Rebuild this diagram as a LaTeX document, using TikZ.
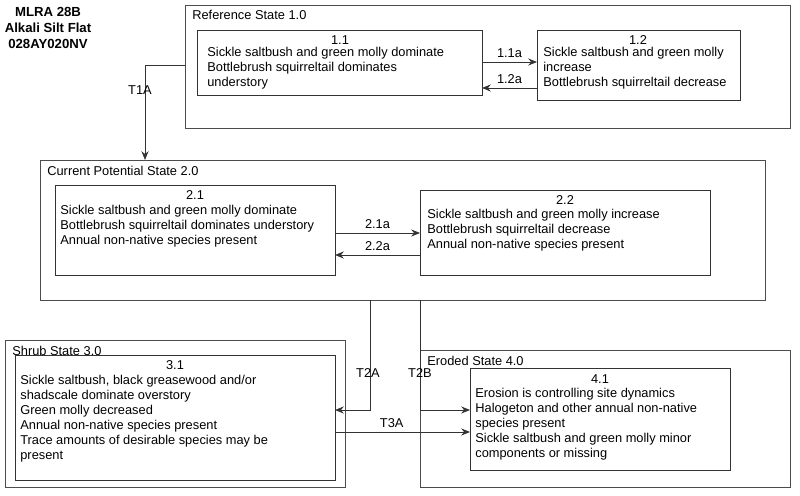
\documentclass[tikz,border=0pt]{standalone}
\usepackage{fontspec}
\setmainfont{Liberation Sans}
\usetikzlibrary{arrows.meta}
\tikzset{
  statebox/.style={draw=black!70, line width=0.5pt},
  phase/.style={draw=black!80, line width=0.5pt},
  txt/.style={font=\fontsize{7.3}{8.5}\selectfont, inner sep=0pt},
  trans/.style={draw=black!80, line width=0.5pt, -{Stealth[length=5pt,width=4pt]}}
}
\begin{document}
\begin{tikzpicture}[x=0.02cm, y=-0.02cm]
  \useasboundingbox (0,0) rectangle (800,496);
  % title
  \node[txt, font=\fontsize{7.5}{9.3}\selectfont\bfseries, align=center] (title) at (48,28)
    {MLRA 28B\\Alkali Silt Flat\\028AY020NV};

  % states
  \draw[statebox] (185,5) rectangle (790,128);
  \node[txt, anchor=north west] (s1) at (192,10) {Reference State 1.0};
  \draw[statebox] (40,160) rectangle (765,300);
  \node[txt, anchor=north west] (s2) at (47,166) {Current Potential State 2.0};
  \draw[statebox] (5,340) rectangle (345,487);
  \node[txt, anchor=north west] (s3) at (12,346) {Shrub State 3.0};
  \draw[statebox] (420,350) rectangle (790,487);
  \node[txt, anchor=north west] (s4) at (427,356) {Eroded State 4.0};

  % phases
  \draw[phase] (197,30) rectangle (482,95);
  \node[txt, anchor=north] (p11n) at (340,35) {1.1};
  \node[txt, anchor=north west, align=left] (p11) at (207,47)
    {Sickle saltbush and green molly dominate\\Bottlebrush squirreltail dominates\\understory};
  \draw[phase] (537,30) rectangle (740,100);
  \node[txt, anchor=north] (p12n) at (638,35) {1.2};
  \node[txt, anchor=north west, align=left] (p12) at (543,47)
    {Sickle saltbush and green molly\\increase\\Bottlebrush squirreltail decrease};

  \draw[phase] (55,185) rectangle (335,275);
  \node[txt, anchor=north] (p21n) at (195,190) {2.1};
  \node[txt, anchor=north west, align=left] (p21) at (60,205)
    {Sickle saltbush and green molly dominate\\Bottlebrush squirreltail dominates understory\\Annual non-native species present};
  \draw[phase] (420,190) rectangle (710,275);
  \node[txt, anchor=north] (p22n) at (565,195) {2.2};
  \node[txt, anchor=north west, align=left] (p22) at (427,209)
    {Sickle saltbush and green molly increase\\Bottlebrush squirreltail decrease\\Annual non-native species present};

  \draw[phase] (15,355) rectangle (335,480);
  \node[txt, anchor=north] (p31n) at (175,360) {3.1};
  \node[txt, anchor=north west, align=left] (p31) at (20,375)
    {Sickle saltbush, black greasewood and/or\\shadscale dominate overstory\\Green molly decreased\\Annual non-native species present\\Trace amounts of desirable species may be\\present};
  \draw[phase] (470,368) rectangle (730,470);
  \node[txt, anchor=north] (p41n) at (600,374) {4.1};
  \node[txt, anchor=north west, align=left] (p41) at (475,388)
    {Erosion is controlling site dynamics\\Halogeton and other annual non-native\\species present\\Sickle saltbush and green molly minor\\components or missing};

  % transitions
  \draw[trans] (482,62) -- (537,62) node[txt, pos=0.5, above=2pt] {1.1a};
  \draw[trans] (537,88) -- (482,88) node[txt, pos=0.5, above=2pt] {1.2a};
  \draw[trans] (335,233) -- (420,233) node[txt, pos=0.5, above=2pt] {2.1a};
  \draw[trans] (420,255) -- (335,255) node[txt, pos=0.5, above=2pt] {2.2a};
  \draw[trans] (185,65) -- (145,65) -- (145,160);
  \node[txt] (t1a) at (140,90) {T1A};
  \draw[trans] (370,300) -- (370,410) -- (335,410);
  \node[txt] (t2a) at (368,373) {T2A};
  \draw[trans] (420,300) -- (420,410) -- (470,410);
  \node[txt] (t2b) at (420,373) {T2B};
  \draw[trans] (335,432) -- (470,432) node[txt, pos=0.42, above=2pt] {T3A};
\end{tikzpicture}
\end{document}
